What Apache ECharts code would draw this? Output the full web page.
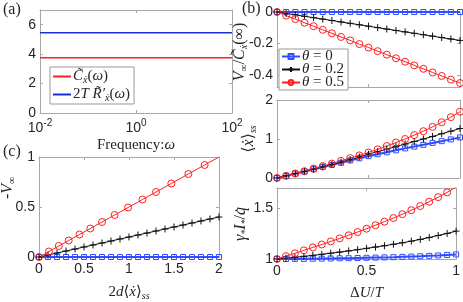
<!DOCTYPE html>
<html><head><meta charset="utf-8">
<script src="https://cdn.jsdelivr.net/npm/echarts@6/dist/echarts.min.js"></script>
<style>html,body{margin:0;padding:0;background:#fff}#c{width:463px;height:302px}</style>
</head><body><div id="c"></div>
<script>
// ---------- Panel (a) ----------
const aFreqExp = [-2, 2];            // log10(frequency)
const aCtilde  = [3.75, 3.75];
const aR2T     = [5.45, 5.45];
const aXTicks  = [-2, 0, 2];
const aYTicks  = [0, 2, 4, 6];

// ---------- Panel (b) ----------
const bX = [0,0.05,0.1,0.15,0.2,0.25,0.3,0.35,0.4,0.45,0.5,0.55,0.6,0.65,0.7,0.75,0.8,0.85,0.9,0.95,1];
const b1Blue  = [0,0,0,0,0,0,0,0,0,0,0,0,0,0,0,0,0,0,0,0,0];
const b1Black = [0,-0.009,-0.018,-0.027,-0.036,-0.045,-0.054,-0.063,-0.072,-0.081,-0.09,-0.099,-0.108,-0.117,-0.126,-0.135,-0.144,-0.153,-0.162,-0.171,-0.18];
const b1Red   = [0,-0.023,-0.045,-0.068,-0.09,-0.113,-0.135,-0.158,-0.18,-0.203,-0.225,-0.248,-0.27,-0.293,-0.315,-0.338,-0.36,-0.383,-0.405,-0.428,-0.45];
const b2Blue  = [0,0.056,0.112,0.168,0.224,0.28,0.336,0.39,0.45,0.505,0.56,0.61,0.66,0.71,0.76,0.805,0.85,0.9,0.945,0.99,1.04];
const b2Black = [0,0.056,0.112,0.168,0.226,0.285,0.345,0.405,0.47,0.54,0.61,0.675,0.74,0.805,0.87,0.935,1.0,1.065,1.135,1.2,1.27];
const b2Red   = [0,0.055,0.115,0.175,0.24,0.305,0.37,0.44,0.51,0.58,0.655,0.735,0.82,0.91,1.0,1.1,1.2,1.31,1.43,1.56,1.7];
const b3Blue  = [1,1.0,1.001,1.002,1.003,1.004,1.005,1.007,1.008,1.01,1.012,1.014,1.016,1.018,1.021,1.024,1.027,1.031,1.035,1.04,1.045];
const b3Black = [1,1.008,1.017,1.026,1.036,1.046,1.057,1.068,1.08,1.092,1.105,1.118,1.131,1.145,1.16,1.176,1.193,1.212,1.232,1.252,1.275];
const b3Red   = [1,1.028,1.056,1.085,1.114,1.143,1.173,1.203,1.234,1.266,1.299,1.333,1.368,1.404,1.442,1.481,1.522,1.565,1.61,1.657,1.71];
const bXTicks  = [0, 0.5, 1];
const b1YTicks = [-0.4, -0.2, 0];
const b2YTicks = [0, 1, 2];
const b3YTicks = [1, 1.5];

// ---------- Panel (c) ----------
const cRedX   = [0,0.11,0.22,0.33,0.45,0.57,0.70,0.84,0.99,1.15,1.30,1.47,1.66,1.84,2.0];
const cRedY   = [0,0.055,0.11,0.165,0.225,0.285,0.35,0.42,0.495,0.575,0.65,0.735,0.83,0.92,1.0];
const cBlackX = [0,0.1,0.2,0.3,0.4,0.5,0.6,0.7,0.8,0.9,1.0,1.1,1.2,1.3,1.4,1.5,1.6,1.7,1.8,1.9,2.0];
const cBlackY = [0,0.02,0.04,0.06,0.08,0.1,0.12,0.14,0.16,0.18,0.2,0.22,0.24,0.26,0.28,0.3,0.32,0.34,0.36,0.38,0.4];
const cBlueX  = [0,0.1,0.2,0.3,0.4,0.5,0.6,0.7,0.8,0.9,1.0,1.1,1.2,1.3,1.4,1.5,1.6,1.7,1.8,1.9,2.0];
const cBlueY  = [0,0,0,0,0,0,0,0,0,0,0,0,0,0,0,0,0,0,0,0,0];
const cXTicks = [0, 0.5, 1, 1.5, 2];
const cYTicks = [0, 0.5, 1];

const thetaNames = ['t0', 't2', 't5'];
const thetaLabels = {t0: '0', t2: '0.2', t5: '0.5'};

// ---------- styles ----------
const SERIF = 'Liberation Serif, DejaVu Serif, serif';
const SANS = 'Liberation Sans, Arial, sans-serif';
const axisCol = '#a8a8a8';
const txtCol = '#262626';
function richSet(fs) {
  return {
    v:   {fontFamily: SERIF, fontStyle: 'italic', fontSize: fs, lineHeight: fs + 2, color: txtCol},
    n:   {fontFamily: SERIF, fontSize: fs, lineHeight: fs + 2, color: txtCol},
    sub: {fontFamily: SERIF, fontStyle: 'italic', fontSize: Math.round(fs * 0.65), lineHeight: Math.round(fs * 0.65), verticalAlign: 'bottom', color: txtCol},
    s:   {fontFamily: SANS, fontSize: 10, lineHeight: 10, verticalAlign: 'top', color: txtCol},
    b:   {fontFamily: SANS, fontSize: 14, lineHeight: 20, color: txtCol}
  };
}

const grids = [
  {left: 40,  top: 10,  width: 192, height: 103},
  {left: 277, top: 12,  width: 183, height: 75},
  {left: 277, top: 100, width: 183, height: 78},
  {left: 277, top: 188, width: 183, height: 78},
  {left: 39,  top: 157, width: 180, height: 107}
];

const xAxes = [], yAxes = [];
function tick(vals) { return {show: true, inside: true, length: 3, customValues: vals, lineStyle: {color: axisCol}}; }
function line() { return {show: true, onZero: false, lineStyle: {color: axisCol, width: 1}}; }
function panel(g, c) {
  const xi = xAxes.length, yi = yAxes.length;
  xAxes.push({gridIndex: g, type: 'value', position: 'bottom', min: c.xr[0], max: c.xr[1],
    axisLine: line(), splitLine: {show: false}, axisTick: tick(c.xt),
    axisLabel: {show: !!c.xl, customValues: c.xt, formatter: c.xf, fontFamily: SANS, fontSize: 14, color: txtCol, margin: 5, rich: richSet(14)},
    name: c.xn || '', nameLocation: 'middle', nameGap: c.xg || 25,
    nameTextStyle: {rich: richSet(15)}});
  xAxes.push({gridIndex: g, type: 'value', position: 'top', min: c.xr[0], max: c.xr[1],
    axisLine: line(), splitLine: {show: false}, axisTick: tick(c.xt), axisLabel: {show: false}});
  yAxes.push({gridIndex: g, type: 'value', position: 'left', min: c.yr[0], max: c.yr[1],
    axisLine: line(), splitLine: {show: false}, axisTick: tick(c.yt),
    axisLabel: {customValues: c.yt, fontFamily: SANS, fontSize: 14, color: txtCol, margin: 4}});
  yAxes.push({gridIndex: g, type: 'value', position: 'right', min: c.yr[0], max: c.yr[1],
    axisLine: line(), splitLine: {show: false}, axisTick: tick(c.yt), axisLabel: {show: false}});
  return {x: xi, y: yi};
}

const supMap = {'-2': '{b|10}{s|-2}', '0': '{b|10}{s|0}', '2': '{b|10}{s|2}'};
const pA = panel(0, {xr: [-2, 2], yr: [0, 7], xt: aXTicks, yt: aYTicks, xl: true,
  xf: v => supMap[String(v)], xn: '{n|Frequency:}{v|ω}', xg: 24});
const pB1 = panel(1, {xr: [0, 1], yr: [-0.475, 0], xt: bXTicks, yt: b1YTicks, xl: false});
const pB2 = panel(2, {xr: [0, 1], yr: [0, 2], xt: bXTicks, yt: b2YTicks, xl: false});
const pB3 = panel(3, {xr: [0, 1], yr: [1, 1.7], xt: bXTicks, yt: b3YTicks, xl: true,
  xn: '{n|Δ}{v|U}{n|/}{v|T}', xg: 26});
const pC = panel(4, {xr: [0, 2], yr: [0, 1], xt: cXTicks, yt: cYTicks, xl: true,
  xn: '{n|2}{v|d}{n|⟨}{v|ẋ}{n|⟩}{sub|ss}', xg: 27});

// vertical axis titles (rotated text)
function yTitle(x, y, text, fs) {
  return {type: 'text', x: x, y: y, rotation: Math.PI / 2, silent: true, z: 1,
    style: {text: text, rich: richSet(fs), align: 'center', verticalAlign: 'middle', fill: txtCol}};
}

const RED = '#ff1f1f', BLACK = '#111111', BLUE = '#2f4dff';
const styleOf = {
  t0: {color: BLUE, width: 2, symbol: 'rect', size: 5},
  t2: {color: BLACK, width: 1, symbol: 'path://M0,5L10,5M5,0L5,10', size: 7},
  t5: {color: RED, width: 1, symbol: 'circle', size: 7}
};
function thetaSeries(name, p, xs, ys) {
  const s = styleOf[name];
  return {
    name: name, type: 'line', xAxisIndex: p.x, yAxisIndex: p.y,
    data: xs.map((x, i) => [x, ys[i]]),
    symbol: s.symbol, symbolSize: s.size, showSymbol: true, showAllSymbol: true,
    lineStyle: {color: s.color, width: s.width},
    itemStyle: {color: 'rgba(0,0,0,0)', borderColor: s.color, borderWidth: 1},
    emphasis: {disabled: true}, animation: false
  };
}

const series = [
  {name: 'C', type: 'line', xAxisIndex: pA.x, yAxisIndex: pA.y, data: aFreqExp.map((x, i) => [x, aCtilde[i]]),
   symbol: 'none', lineStyle: {color: RED, width: 1.5}, itemStyle: {color: RED}, animation: false},
  {name: 'R', type: 'line', xAxisIndex: pA.x, yAxisIndex: pA.y, data: aFreqExp.map((x, i) => [x, aR2T[i]]),
   symbol: 'none', lineStyle: {color: '#1a2fd6', width: 1.5}, itemStyle: {color: '#1a2fd6'}, animation: false},
  thetaSeries('t0', pB1, bX, b1Blue), thetaSeries('t2', pB1, bX, b1Black), thetaSeries('t5', pB1, bX, b1Red),
  thetaSeries('t0', pB2, bX, b2Blue), thetaSeries('t2', pB2, bX, b2Black), thetaSeries('t5', pB2, bX, b2Red),
  thetaSeries('t0', pB3, bX, b3Blue), thetaSeries('t2', pB3, bX, b3Black), thetaSeries('t5', pB3, bX, b3Red),
  thetaSeries('t0', pC, cBlueX, cBlueY), thetaSeries('t2', pC, cBlackX, cBlackY)
];
const cRed = thetaSeries('t5', pC, cRedX, cRedY);
cRed.data[cRed.data.length - 1] = {value: cRed.data[cRed.data.length - 1], symbol: 'none'};
series.push(cRed);

const option = {
  backgroundColor: '#fff',
  animation: false,
  grid: grids,
  xAxis: xAxes,
  yAxis: yAxes,
  title: [
    {text: '(a)', left: 3, top: 2, padding: 0, textStyle: {fontFamily: SERIF, fontSize: 16, fontWeight: 'normal', color: txtCol}},
    {text: '(b)', left: 242, top: 1, padding: 0, textStyle: {fontFamily: SERIF, fontSize: 16, fontWeight: 'normal', color: txtCol}},
    {text: '(c)', left: 3, top: 144, padding: 0, textStyle: {fontFamily: SERIF, fontSize: 16, fontWeight: 'normal', color: txtCol}}
  ],
  graphic: [
    yTitle(240, 52, '{v|V}{sub|∞}{n|/}{v|C̃}{sub|ẋ}{n|(∞)}', 16),
    yTitle(249, 139, '{n|⟨}{v|ẋ}{n|⟩}{sub|ss}', 16),
    yTitle(241, 224, '{v|γ}{sub|*}{v|I}{sub|*}{n|/}{v|q̇}', 16),
    yTitle(8, 188, '{n|-}{v|V}{sub|∞}', 16)
  ],
  legend: [
    {data: ['C', 'R'], orient: 'vertical', left: 50, top: 67, itemWidth: 18, itemHeight: 8, itemGap: 2,
     padding: [2, 4, 1, 2], backgroundColor: '#fff', borderColor: '#999', borderWidth: 1, selectedMode: false,
     itemStyle: {opacity: 0},
     formatter: n => n === 'C' ? '{v|C̃}{sub|ẋ}{n|(}{v|ω}{n|)}' : '{n|2}{v|T R̃′}{sub|ẋ}{n|(}{v|ω}{n|)}',
     textStyle: {rich: richSet(15), padding: [0, 0, 0, -3]}},
    {data: thetaNames, orient: 'vertical', left: 279, top: 49, itemWidth: 18, itemHeight: 6, itemGap: -2,
     padding: [0, 4, 0, 2], backgroundColor: '#fff', borderColor: '#999', borderWidth: 1, selectedMode: false,
     formatter: n => '{v|θ}{n| = ' + thetaLabels[n] + '}',
     textStyle: {rich: {v: {fontFamily: SERIF, fontStyle: 'italic', fontSize: 15, lineHeight: 12, color: txtCol},
                        n: {fontFamily: SERIF, fontSize: 15, lineHeight: 12, color: txtCol}}, padding: [0, 0, 0, -3]}}
  ],
  series: series
};
const chart = echarts.init(document.getElementById('c'), null, {renderer: 'canvas'});
chart.setOption(option);
</script></body></html>
